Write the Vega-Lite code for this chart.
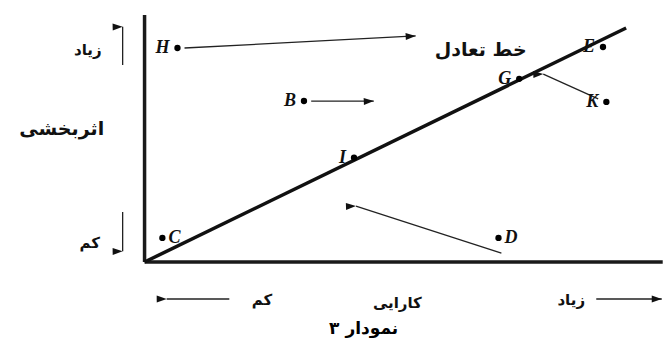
{
  "$schema": "https://vega.github.io/schema/vega-lite/v6.json",
  "width": 665,
  "height": 343,
  "padding": 0,
  "autosize": {"type": "fit", "contains": "padding"},
  "background": "white",
  "config": {"view": {"stroke": null}},
  "datasets": {
    "axes": [
      {"name": "effectiveness", "x": 0, "y": 0, "x2": 0, "y2": 105.6},
      {"name": "efficiency", "x": 0, "y": 0, "x2": 107.6, "y2": 0}
    ],
    "balance": [
      {"name": "balance", "x": 0, "y": 0, "x2": 100, "y2": 100}
    ],
    "arrows": [
      {"arrow": "H", "x": 8.3, "y": 91.45, "x2": 56.3, "y2": 96.6},
      {"arrow": "B", "x": 34.6, "y": 68.8, "x2": 47.6, "y2": 68.8},
      {"arrow": "K", "x": 94.2, "y": 69.7, "x2": 82.8, "y2": 80.3},
      {"arrow": "D", "x": 74.1, "y": 3.8, "x2": 43.9, "y2": 23.9},
      {"arrow": "up", "x": -4.55, "y": 84.2, "x2": -4.55, "y2": 100.5},
      {"arrow": "down", "x": -4.55, "y": 21.4, "x2": -4.55, "y2": 4.6},
      {"arrow": "left", "x": 17.6, "y": -15.8, "x2": 4.6, "y2": -15.8},
      {"arrow": "right", "x": 93.8, "y": -15.8, "x2": 107.4, "y2": -15.8}
    ],
    "points": [
      {"label": "H", "x": 6.83, "y": 91.45},
      {"label": "B", "x": 33.1, "y": 68.8},
      {"label": "E", "x": 95.2, "y": 91.9},
      {"label": "G", "x": 77.8, "y": 78.3},
      {"label": "K", "x": 95.9, "y": 68.4},
      {"label": "I", "x": 43.5, "y": 44.6},
      {"label": "C", "x": 3.7, "y": 10.3},
      {"label": "D", "x": 73.5, "y": 10.3}
    ],
    "texts": [
      {"t": "زیاد", "x": -11.8, "y": 90.6},
      {"t": "کم", "x": -11.4, "y": 8.1},
      {"t": "کم", "x": 24.4, "y": -16.2},
      {"t": "کارایی", "x": 52.5, "y": -17.5},
      {"t": "زیاد", "x": 88.6, "y": -16.2}
    ],
    "bigtexts": [
      {"t": "اثربخشی", "x": -17.2, "y": 57},
      {"t": "خط تعادل", "x": 69.8, "y": 90.6}
    ],
    "title": [
      {"t": "نمودار ۳", "x": 45.5, "y": -28.6}
    ]
  },
  "encoding": {
    "x": {"field": "x", "type": "quantitative", "axis": null, "scale": {"domain": [-30.02, 107.66], "nice": false, "zero": false}},
    "y": {"field": "y", "type": "quantitative", "axis": null, "scale": {"domain": [-34.6, 111.97], "nice": false, "zero": false}}
  },
  "layer": [
    {
      "data": {"name": "axes"},
      "mark": {"type": "rule", "color": "#1a1a1a", "strokeWidth": 3.5},
      "encoding": {"x2": {"field": "x2"}, "y2": {"field": "y2"}}
    },
    {
      "data": {"name": "balance"},
      "mark": {"type": "rule", "color": "#111111", "strokeWidth": 3.5},
      "encoding": {"x2": {"field": "x2"}, "y2": {"field": "y2"}}
    },
    {
      "data": {"name": "arrows"},
      "mark": {"type": "rule", "color": "#222222", "strokeWidth": 1.3},
      "encoding": {"x2": {"field": "x2"}, "y2": {"field": "y2"}}
    },
    {
      "data": {"name": "arrows"},
      "mark": {"type": "point", "shape": "M0,0L0.7,2L-0.7,2Z", "filled": true, "color": "#111111", "size": 100, "opacity": 1},
      "encoding": {
        "x": {"field": "x2", "type": "quantitative"},
        "y": {"field": "y2", "type": "quantitative"},
        "angle": {"field": "arrow", "type": "nominal", "scale": {"domain": ["H", "B", "K", "D", "up", "down", "left", "right"], "range": [87, 90, 294, 288, 0, 180, 270, 90]}, "legend": null}
      }
    },
    {
      "data": {"name": "points"},
      "mark": {"type": "point", "shape": "circle", "filled": true, "color": "#000000", "size": 40, "opacity": 1}
    },
    {
      "data": {"name": "points"},
      "transform": [{"filter": "datum.label != 'C' && datum.label != 'D'"}],
      "mark": {"type": "text", "align": "right", "baseline": "middle", "dx": -8, "font": "Liberation Serif", "fontSize": 18, "fontStyle": "italic", "fontWeight": "bold", "color": "#111111"},
      "encoding": {"text": {"field": "label"}}
    },
    {
      "data": {"name": "points"},
      "transform": [{"filter": "datum.label == 'C' || datum.label == 'D'"}],
      "mark": {"type": "text", "align": "left", "baseline": "middle", "dx": 6, "font": "Liberation Serif", "fontSize": 18, "fontStyle": "italic", "fontWeight": "bold", "color": "#111111"},
      "encoding": {"text": {"field": "label"}}
    },
    {
      "data": {"name": "texts"},
      "mark": {"type": "text", "align": "center", "baseline": "middle", "font": "DejaVu Sans", "fontSize": 15, "fontWeight": "bold", "color": "#111111"},
      "encoding": {"text": {"field": "t"}}
    },
    {
      "data": {"name": "bigtexts"},
      "mark": {"type": "text", "align": "center", "baseline": "middle", "font": "DejaVu Sans", "fontSize": 19, "fontWeight": "bold", "color": "#111111"},
      "encoding": {"text": {"field": "t"}}
    },
    {
      "data": {"name": "title"},
      "mark": {"type": "text", "align": "center", "baseline": "middle", "font": "DejaVu Sans", "fontSize": 17, "fontWeight": "bold", "color": "#000000"},
      "encoding": {"text": {"field": "t"}}
    }
  ]
}
